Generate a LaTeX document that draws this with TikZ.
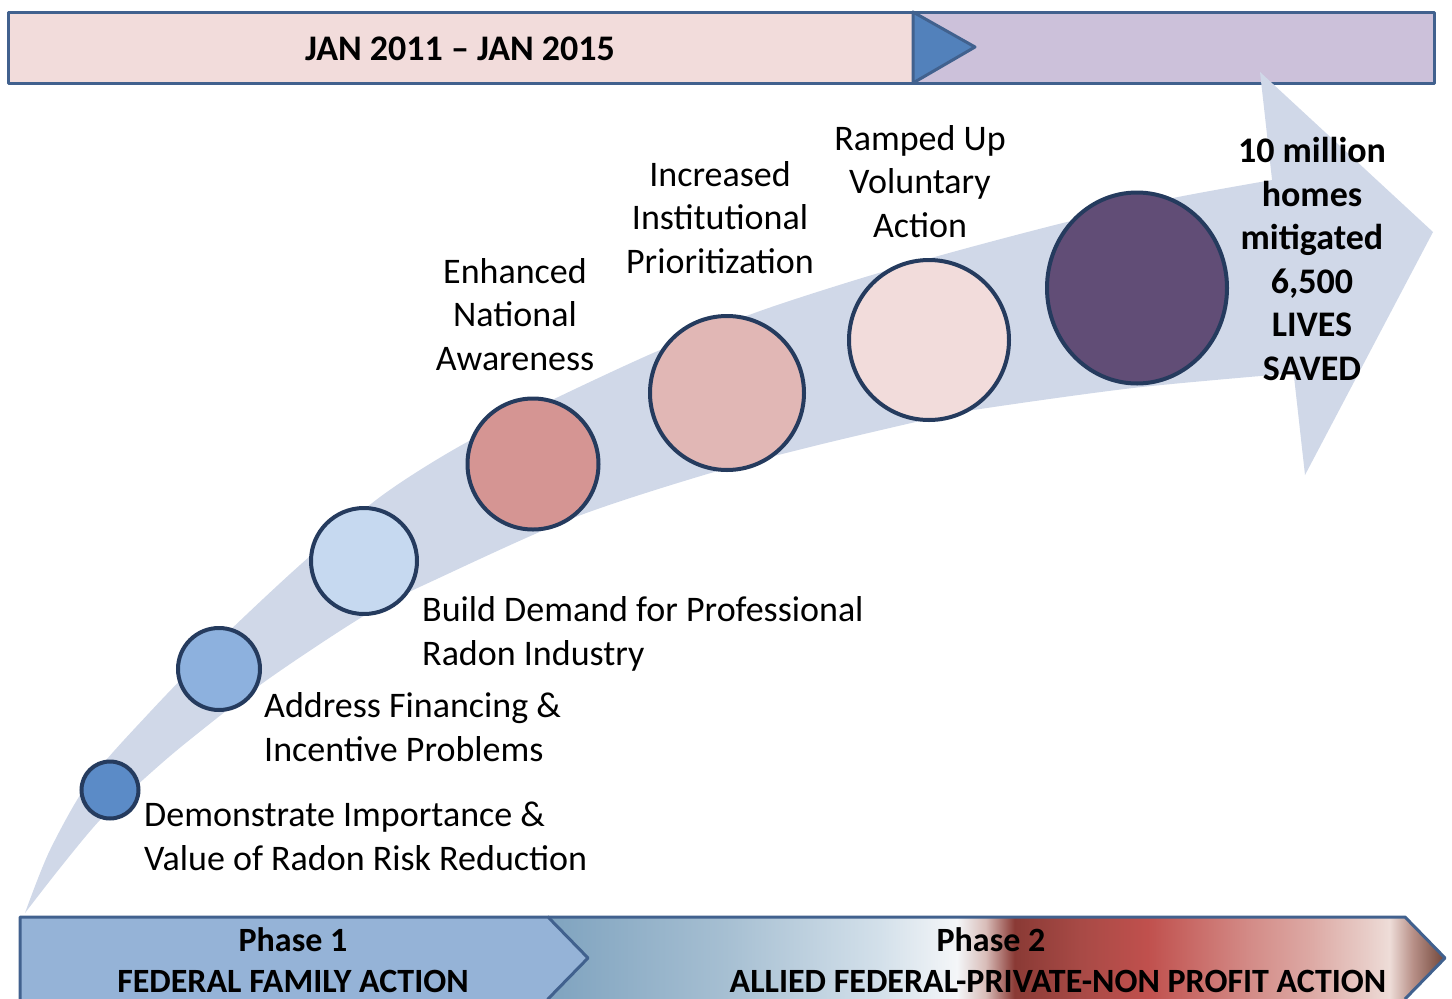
\documentclass[tikz,border=0pt]{standalone}
\usepackage{fontspec}
\usetikzlibrary{shapes.geometric}
\setmainfont{Carlito}
\definecolor{toppink}{HTML}{F2DCDB}
\definecolor{toplav}{HTML}{CCC1DA}
\definecolor{barline}{HTML}{41618E}
\definecolor{triblue}{HTML}{5281BB}
\definecolor{bandfill}{HTML}{D0D8E8}
\definecolor{ringline}{HTML}{253B5E}
\definecolor{cA}{HTML}{5B8BC7}
\definecolor{cB}{HTML}{8DB1DE}
\definecolor{cC}{HTML}{C6D9F0}
\definecolor{cD}{HTML}{D59593}
\definecolor{cE}{HTML}{E1B7B5}
\definecolor{cF}{HTML}{F2DCDB}
\definecolor{cG}{HTML}{614D76}
\definecolor{phaseone}{HTML}{95B3D7}
\definecolor{pa}{HTML}{7FA3BF}
\definecolor{pb}{HTML}{A6BFD2}
\definecolor{pc}{HTML}{D3E0EA}
\definecolor{pd}{HTML}{F4F6F8}
\definecolor{pe}{HTML}{D8BCB8}
\definecolor{pf}{HTML}{8A3A35}
\definecolor{pg}{HTML}{A84A46}
\definecolor{ph}{HTML}{C0504D}
\definecolor{pi}{HTML}{D38A86}
\definecolor{pj}{HTML}{DDAAA5}
\definecolor{pk}{HTML}{E8CDC8}
\definecolor{pl}{HTML}{EEDDD8}
\definecolor{pm}{HTML}{B89088}
\definecolor{pn}{HTML}{704538}
\pgfdeclarehorizontalshading{phasetwo}{100bp}{color(0bp)=(pa); color(25bp)=(pa); color(34.9bp)=(pb); color(43.5bp)=(pc); color(47.8bp)=(pd); color(49.4bp)=(pe); color(51bp)=(pf); color(54.7bp)=(pg); color(58.4bp)=(ph); color(64bp)=(pi); color(67.6bp)=(pj); color(70.7bp)=(pk); color(71.9bp)=(pl); color(73.2bp)=(pm); color(75bp)=(pn); color(100bp)=(pn)}
\tikzset{
  barborder/.style={draw=barline, line width=3pt, line join=round},
  ring/.style={circle, draw=ringline, line width=4pt, inner sep=0pt},
  lbl/.style={font=\fontsize{36}{43.5}\selectfont, inner sep=0pt},
  lblb/.style={font=\fontsize{36}{43.5}\selectfont\bfseries, inner sep=0pt},
  phlbl/.style={font=\fontsize{34}{41}\selectfont\bfseries, inner sep=0pt},
}
\begin{document}
\begin{tikzpicture}[x=1pt,y=-1pt]
\useasboundingbox (0,0) rectangle (1452,999);
% top bar
\fill[toppink] (8,12) rectangle (913,83);
\fill[toplav] (913,12) rectangle (1434,83);
\draw[barborder] (8,12) rectangle (1434,83);
\draw[barborder] (913,12) -- (913,83);
\filldraw[fill=triblue, barborder] (913,12) -- (975,47) -- (913,83) -- cycle;
% bottom phase bars
\shade[shading=phasetwo] (548,917) -- (1405,917) -- (1445,958) -- (1405,999) -- (548,999) -- (588,958) -- cycle;
\draw[barborder] (548,917) -- (1405,917) -- (1445,958) -- (1405,999);
\filldraw[fill=phaseone, barborder] (20,1002) -- (20,917) -- (548,917) -- (588,958) -- (548,999) -- (548,1002);
% curved arrow: shaft
\fill[bandfill] plot[smooth] coordinates {(25,913) (50,850) (90,780) (150,712) (220,640) (300,565) (380,497) (460,446) (552,400) (660,350) (760,311) (862,278) (960,250) (1067,222) (1173,198) (1272,180)}
  -- (1296,180) -- (1296,373)
  -- plot[smooth] coordinates {(1296,373) (1133,388) (967,411) (920,421) (810,447) (704,475) (573,518) (439,578) (367,614) (267,680) (187,742) (145,778) (100,820) (60,868) (25,913)} -- cycle;
% curved arrow: head
\fill[bandfill] (1260,72) -- (1433,232) -- (1305,475) -- cycle;
% circles
\node[ring, fill=cA, minimum size=57pt] (c1) at (110,790) {};
\node[ring, fill=cB, minimum size=82pt] (c2) at (219,669) {};
\node[ring, fill=cC, minimum size=106pt] (c3) at (364,561) {};
\node[ring, fill=cD, minimum size=131pt] (c4) at (533,464) {};
\node[ring, fill=cE, minimum size=154pt] (c5) at (727,393) {};
\node[ring, fill=cF, minimum size=160pt] (c6) at (929,340) {};
\node[ellipse, draw=ringline, line width=4pt, inner sep=0pt, fill=cG, minimum width=180pt, minimum height=191pt] (c7) at (1137,288) {};
% labels (base anchor = baseline of last line)
\node[lbl, anchor=base west, align=left] (t1) at (144,870) {Demonstrate Importance \&\\Value of Radon Risk Reduction};
\node[lbl, anchor=base west, align=left] (t2) at (264,761) {Address Financing \&\\Incentive Problems};
\node[lbl, anchor=base west, align=left] (t3) at (422,665) {Build Demand for Professional\\Radon Industry};
\node[lbl, anchor=base, align=center] (t4) at (515,370) {Enhanced\\National\\Awareness};
\node[lbl, anchor=base, align=center] (t5) at (720,273) {Increased\\Institutional\\Prioritization};
\node[lbl, anchor=base, align=center] (t6) at (920,237) {Ramped Up\\Voluntary\\Action};
\node[lblb, anchor=base, align=center] (t7) at (1312,380) {10 million\\homes\\mitigated\\6,500\\LIVES\\SAVED};
\node[lblb, anchor=base] (period) at (460,60) {JAN 2011 – JAN 2015};
\node[phlbl, anchor=base, align=center] (ph1) at (293,992) {Phase 1\\FEDERAL FAMILY ACTION};
\node[phlbl, anchor=base] (ph2a) at (991,951) {Phase 2};
\node[phlbl, anchor=base] (ph2b) at (1058,992) {ALLIED FEDERAL-PRIVATE-NON PROFIT ACTION};
\end{tikzpicture}
\end{document}
